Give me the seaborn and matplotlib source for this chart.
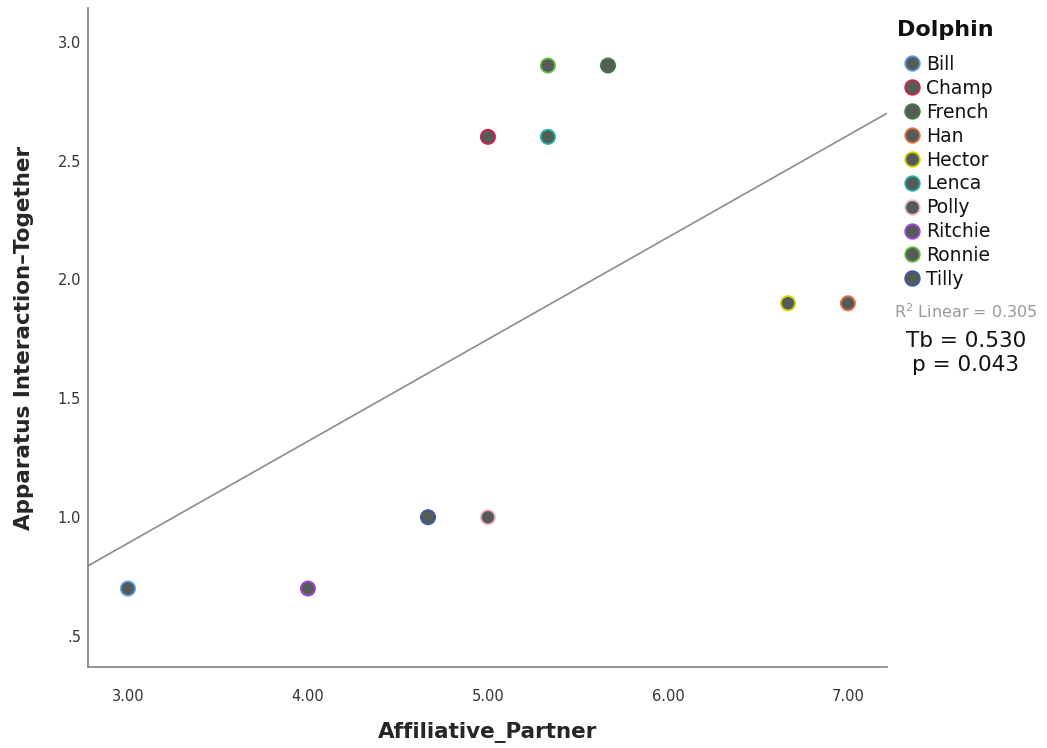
import matplotlib
matplotlib.use("Agg")
import matplotlib.pyplot as plt
import seaborn as sns
import pandas as pd
import numpy as np
from matplotlib.lines import Line2D

dolphins = ["Bill", "Champ", "French", "Han", "Hector", "Lenca", "Polly", "Ritchie", "Ronnie", "Tilly"]
affiliative = [3.0, 5.0, 5.667, 7.0, 6.667, 5.333, 5.0, 4.0, 5.333, 4.667]
together = [0.7, 2.6, 2.9, 1.9, 1.9, 2.6, 1.0, 0.7, 2.9, 1.0]
edge_colors = ["#5a9fe6", "#d21f4a", "#3d7f3d", "#ea7440", "#d8d400", "#20b4a6",
               "#f3b8c8", "#a247e0", "#63bb3f", "#3d5aa6"]
x_ticks = [3.0, 4.0, 5.0, 6.0, 7.0]
x_ticklabels = ["3.00", "4.00", "5.00", "6.00", "7.00"]
y_ticks = [0.5, 1.0, 1.5, 2.0, 2.5, 3.0]
y_ticklabels = [".5", "1.0", "1.5", "2.0", "2.5", "3.0"]

df = pd.DataFrame({"Dolphin": dolphins, "Affiliative_Partner": affiliative,
                   "Together": together})

sns.set_theme(style="white")
plt.rcParams['font.family'] = ['DejaVu Sans']

fig = plt.figure(figsize=(10.47, 7.48), dpi=100)
ax = fig.add_axes([88/1047, 1 - 667/748, (887-88)/1047, (667-8)/748])

ax.set_xlim(2.778, 7.217)
ax.set_ylim(0.37, 3.142)

fill = "#555b57"
palette = dict(zip(dolphins, edge_colors))

sns.regplot(data=df, x="Affiliative_Partner", y="Together", ax=ax, ci=None,
            scatter=False, truncate=False,
            line_kws=dict(color="#8c8c8c", lw=1.2))

sns.scatterplot(data=df, x="Affiliative_Partner", y="Together", hue="Dolphin",
                palette=palette, s=105, linewidth=1.3, ax=ax, legend=False, zorder=3)
coll = ax.collections[-1]
ec = coll.get_facecolors()
coll.set_edgecolors(ec)
coll.set_facecolor(fill)

ax.set_xlim(2.778, 7.217)
ax.set_ylim(0.37, 3.142)
ax.set_xticks(x_ticks)
ax.set_xticklabels(x_ticklabels, fontsize=10.5, color="#333333")
ax.set_yticks(y_ticks)
ax.set_yticklabels(y_ticklabels, fontsize=10.5, color="#333333")
ax.tick_params(axis="x", length=0, pad=16)
ax.tick_params(axis="y", length=0, pad=5)
for s in ["top", "right"]:
    ax.spines[s].set_visible(False)
for s in ["left", "bottom"]:
    ax.spines[s].set_color("#808080")
    ax.spines[s].set_linewidth(1.2)

ax.set_xlabel("Affiliative_Partner", fontsize=15.5, fontweight="bold", labelpad=12.5)
ax.set_ylabel("Apparatus Interaction\u2013Together", fontsize=15.5, fontweight="bold", labelpad=17)

fig.text(897/1047, 1 - 30/748, "Dolphin", ha="left", va="center",
         fontsize=16, fontweight="bold", color="#111111")

handles = [Line2D([0], [0], marker="o", linestyle="", markersize=10.5,
                  markerfacecolor=fill, markeredgecolor=c, markeredgewidth=1.3)
           for c in edge_colors]
leg = fig.legend(handles, dolphins, loc="upper left",
                 bbox_to_anchor=(901/1047, 1 - 55/748), frameon=False,
                 fontsize=13.5, handletextpad=0.15, labelspacing=0.26,
                 handlelength=1.2, borderaxespad=0, borderpad=0)
for t in leg.get_texts():
    t.set_color("#111111")

fig.text(966/1047, 1 - 312/748, "R$^2$ Linear = 0.305", ha="center", va="center",
         fontsize=11.5, color="#999999")
fig.text(966/1047, 1 - 341/748, "Tb = 0.530", ha="center", va="center",
         fontsize=15.5, color="#111111")
fig.text(966/1047, 1 - 365/748, "p = 0.043", ha="center", va="center",
         fontsize=15.5, color="#111111")

fig.savefig("out.png", dpi=100)
